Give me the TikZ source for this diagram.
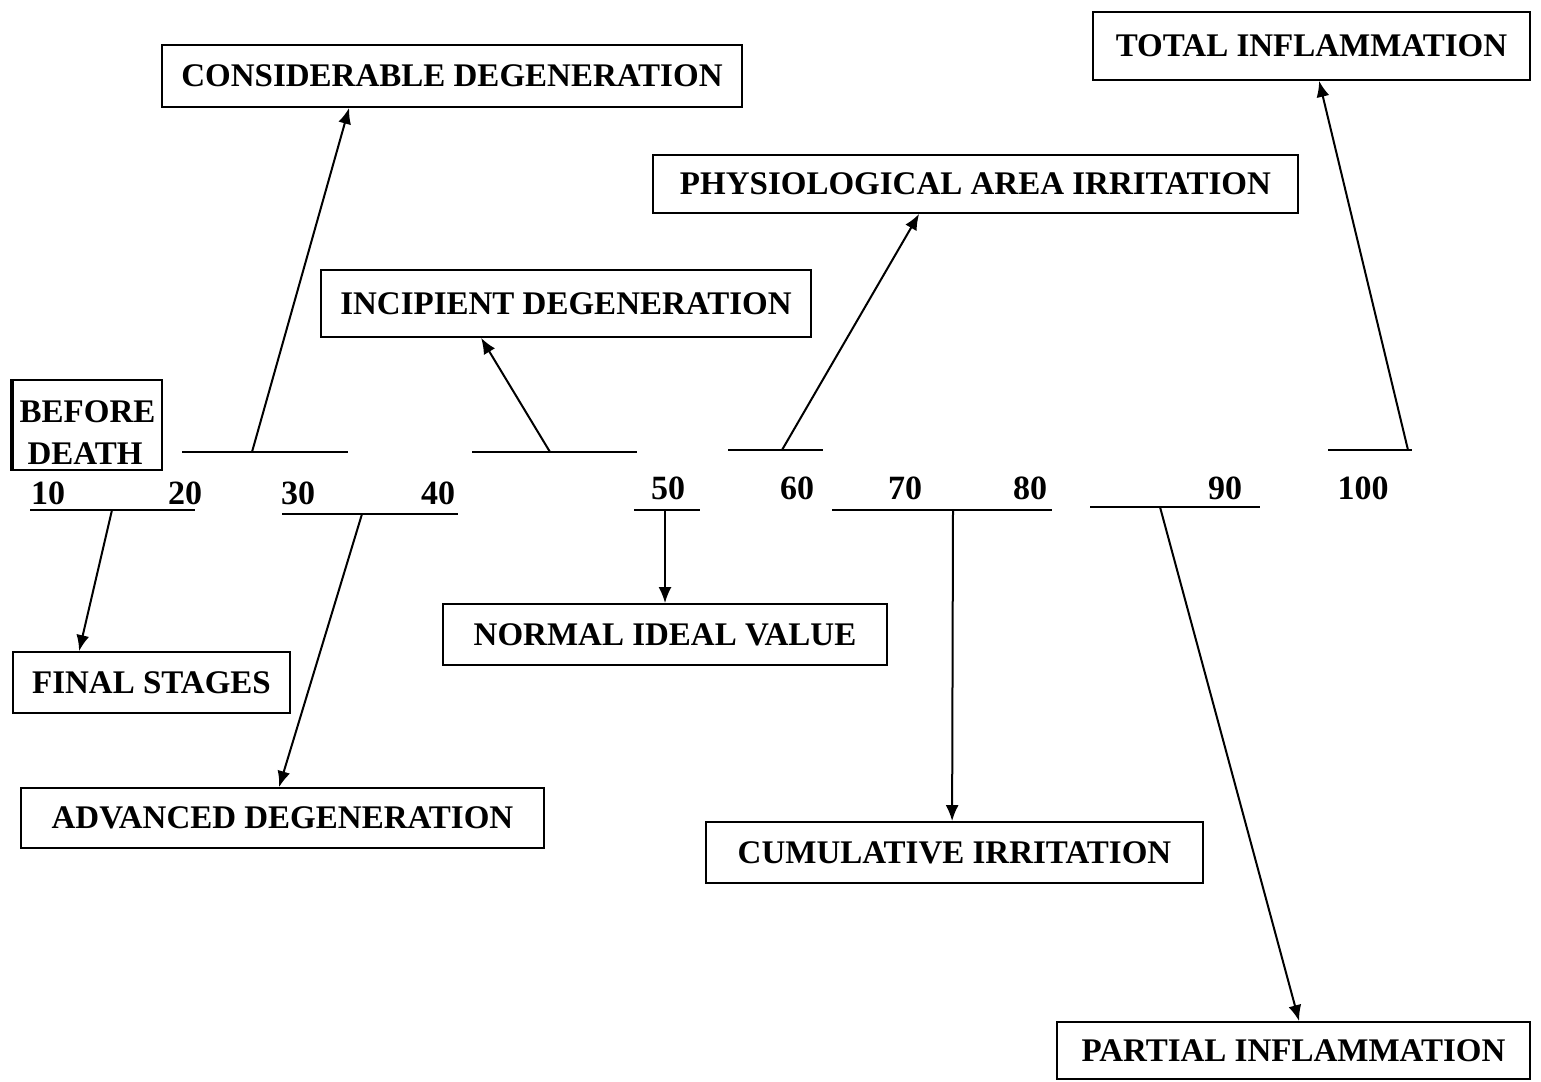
\documentclass[tikz,border=0pt]{standalone}
\usepackage{fontspec}
\setmainfont{Liberation Serif}
\usetikzlibrary{arrows.meta}
\begin{document}
\begin{tikzpicture}[x=1pt,y=-1pt,
  boxnode/.style={draw=black,line width=1.8pt,inner sep=0pt,font=\bfseries\fontsize{33}{40}\selectfont},
  numnode/.style={inner sep=0pt,font=\bfseries\fontsize{34}{40}\selectfont},
  tick/.style={line width=2.2pt},
  arr/.style={line width=2pt,-{Latex[length=16pt,width=13pt]}}]
\useasboundingbox[fill=white] (0,0) rectangle (1541,1081);

% boxes
\node[boxnode,minimum width=580pt,minimum height=62pt] (cons) at (452,76) {CONSIDERABLE DEGENERATION};
\node[boxnode,minimum width=437pt,minimum height=68pt] (total) at (1311.5,46) {TOTAL INFLAMMATION};
\node[boxnode,minimum width=645pt,minimum height=58pt] (phys) at (975.5,184) {PHYSIOLOGICAL AREA IRRITATION};
\node[boxnode,minimum width=490pt,minimum height=67pt] (incip) at (566,303.5) {INCIPIENT DEGENERATION};
\node[boxnode,minimum width=149pt,minimum height=90pt,align=left,font=\bfseries\fontsize{33}{42}\selectfont] (before) at (87.5,425) {\rule{0pt}{38pt}BEFORE\\\hspace*{8pt}DEATH};
\draw[line width=4.5pt] (before.north west) -- (before.south west);
\node[boxnode,minimum width=277pt,minimum height=61pt] (final) at (151.5,682.5) {FINAL STAGES};
\node[boxnode,minimum width=523pt,minimum height=60pt] (adv) at (282.5,818) {ADVANCED DEGENERATION};
\node[boxnode,minimum width=444pt,minimum height=61pt] (normal) at (665,634.5) {NORMAL IDEAL VALUE};
\node[boxnode,minimum width=497pt,minimum height=61pt] (cumul) at (954.5,852.5) {CUMULATIVE IRRITATION};
\node[boxnode,minimum width=473pt,minimum height=57pt] (partial) at (1293.5,1050.5) {PARTIAL INFLAMMATION};

% scale numbers
\node[numnode] (n10) at (48,493) {10};
\node[numnode] (n20) at (185,493) {20};
\node[numnode] (n30) at (298,493) {30};
\node[numnode] (n40) at (438,493) {40};
\node[numnode] (n50) at (668,488) {50};
\node[numnode] (n60) at (797,488) {60};
\node[numnode] (n70) at (905,488) {70};
\node[numnode] (n80) at (1030,488) {80};
\node[numnode] (n90) at (1225,488) {90};
\node[numnode] (n100) at (1363,488) {100};

% upper range lines
\coordinate (u1a) at (182,452); \coordinate (u1b) at (348,452); \coordinate (u1s) at (252,452);
\coordinate (u2a) at (472,452); \coordinate (u2b) at (637,452); \coordinate (u2s) at (550,452);
\coordinate (u3a) at (728,450); \coordinate (u3b) at (823,450); \coordinate (u3s) at (782,450);
\coordinate (u4a) at (1328,450); \coordinate (u4b) at (1412,450); \coordinate (u4s) at (1408,450);
% lower range lines
\coordinate (d1a) at (30,510); \coordinate (d1b) at (195,510); \coordinate (d1s) at (112,510);
\coordinate (d2a) at (282,514); \coordinate (d2b) at (458,514); \coordinate (d2s) at (362,514);
\coordinate (d3a) at (634,510); \coordinate (d3b) at (700,510); \coordinate (d3s) at (665,510);
\coordinate (d4a) at (832,510); \coordinate (d4b) at (1052,510); \coordinate (d4s) at (953,510);
\coordinate (d5a) at (1090,507); \coordinate (d5b) at (1260,507); \coordinate (d5s) at (1160,507);

\foreach \l in {u1,u2,u3,u4,d1,d2,d3,d4,d5} \draw[tick] (\l a) -- (\l b);

% connectors
\draw[arr] (u1s) -- ([xshift=188pt]cons.south west);
\draw[arr] (u2s) -- ([xshift=161pt]incip.south west);
\draw[arr] (u3s) -- ([xshift=267pt]phys.south west);
\draw[arr] (u4s) -- ([xshift=227pt]total.south west);
\draw[arr] (d1s) -- ([xshift=67pt]final.north west);
\draw[arr] (d2s) -- ([xshift=259pt]adv.north west);
\draw[arr] (d3s) -- (normal.north);
\draw[arr] (d4s) -- ([xshift=247pt]cumul.north west);
\draw[arr] (d5s) -- ([xshift=243pt]partial.north west);
\end{tikzpicture}
\end{document}
